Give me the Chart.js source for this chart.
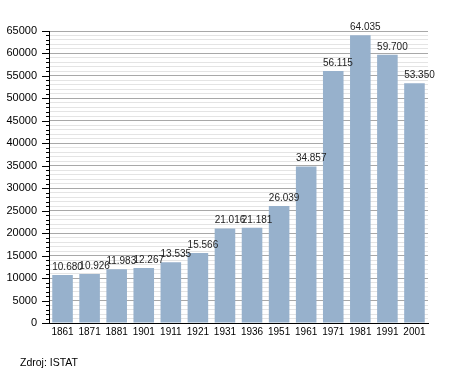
<!DOCTYPE html>
<html>
<head>
<meta charset="utf-8">
<script src="https://cdn.jsdelivr.net/npm/chart.js@4/dist/chart.umd.min.js"></script>
<style>
html,body{margin:0;padding:0;background:#fff;}
#wrap{position:relative;width:455px;height:373px;}
#note{position:absolute;left:20px;top:356px;font:10.5px "Liberation Sans",Arial,sans-serif;color:#000;}
</style>
</head>
<body>
<div id="wrap">
<canvas id="c" width="455" height="373"></canvas>
<div id="note">Zdroj: ISTAT</div>
</div>
<script>
const years = ['1861','1871','1881','1901','1911','1921','1931','1936','1951','1961','1971','1981','1991','2001'];
const population = [10680,10926,11983,12267,13535,15566,21016,21181,26039,34857,56115,64035,59700,53350];
const yMax = 65000;
const yStep = 1000;
const yLabelStep = 5000;

const FONT = '"Liberation Sans", Arial, sans-serif';

function fmt(v){
  const s = String(v);
  return s.replace(/\B(?=(\d{3})+(?!\d))/g, '.');
}

const extras = {
  id: 'extras',
  afterDraw(chart){
    const ctx = chart.ctx;
    const y = chart.scales.y;
    const left = chart.chartArea.left;
    ctx.save();
    ctx.strokeStyle = '#000';
    ctx.lineWidth = 1;
    for (let v = 0; v <= yMax; v += yStep){
      const py = Math.round(y.getPixelForValue(v)) + 0.5;
      const len = (v % yLabelStep === 0) ? 7 : 3;
      ctx.beginPath();
      ctx.moveTo(left - len, py);
      ctx.lineTo(left, py);
      ctx.stroke();
    }
    // data labels
    ctx.fillStyle = '#222';
    ctx.font = '10px ' + FONT;
    ctx.textAlign = 'left';
    ctx.textBaseline = 'bottom';
    const meta = chart.getDatasetMeta(0);
    meta.data.forEach((bar, i) => {
      ctx.fillText(fmt(population[i]), bar.x - bar.width/2, bar.y - 3);
    });
    ctx.restore();
  }
};

new Chart(document.getElementById('c'), {
  type: 'bar',
  data: {
    labels: years,
    datasets: [{
      data: population,
      backgroundColor: '#97b1cc',
      borderWidth: 0,
      barPercentage: 0.76,
      categoryPercentage: 1.0
    }]
  },
  options: {
    responsive: false,
    animation: false,
    devicePixelRatio: 1,
    layout: { padding: { top: 31, right: 27, bottom: 30, left: 0 } },
    plugins: { legend: { display: false }, tooltip: { enabled: false } },
    scales: {
      x: {
        grid: { display: false, drawTicks: false },
        border: { color: '#000', width: 1 },
        ticks: { color: '#000', font: { size: 10, family: FONT }, padding: 3, maxRotation: 0, autoSkip: false },
        afterFit(s){ s.height = 20; }
      },
      y: {
        min: 0, max: yMax,
        grid: {
          drawTicks: false,
          color: (c) => (c.tick && c.tick.value % yLabelStep === 0) ? '#a8a8a8' : '#e4e4e4',
          lineWidth: 1
        },
        border: { color: '#000', width: 1 },
        ticks: {
          stepSize: yStep,
          maxTicksLimit: 200,
          autoSkip: false,
          color: '#000',
          padding: 12,
          font: { size: 11, family: FONT },
          callback: (v) => (v % yLabelStep === 0) ? String(v) : ''
        },
        afterFit(s){ s.width = 49; }
      }
    }
  },
  plugins: [extras]
});
</script>
</body>
</html>
